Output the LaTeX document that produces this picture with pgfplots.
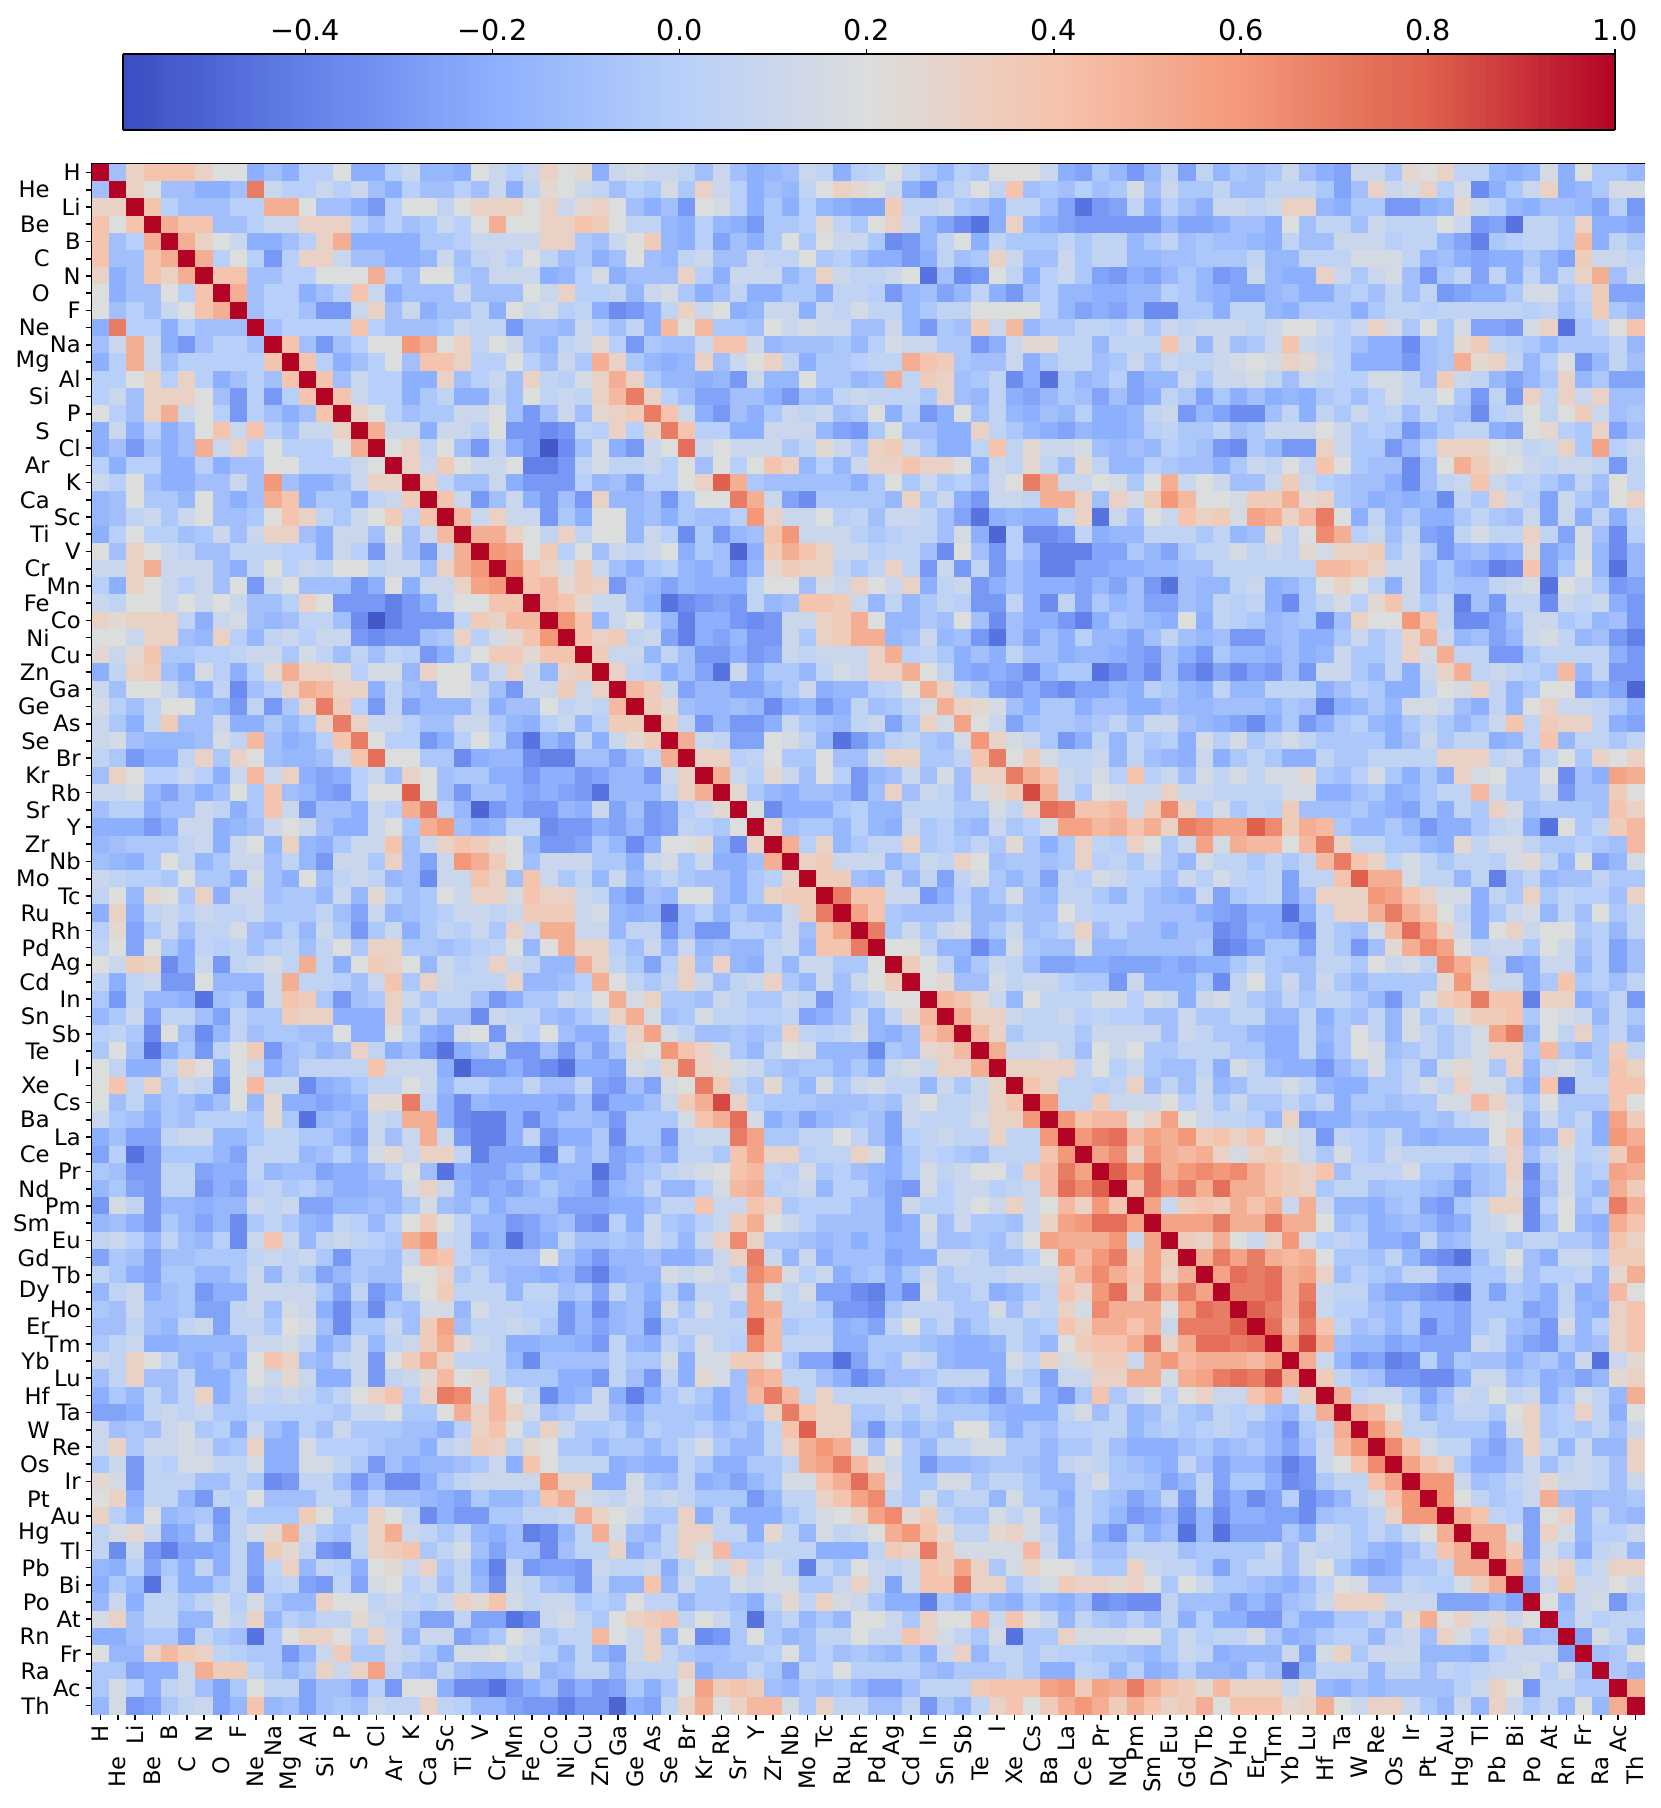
\documentclass[border=0pt]{standalone}
\usepackage{fontspec}
\setmainfont{DejaVu Sans}
\usepackage{pgfplots}
\pgfplotsset{compat=1.18}
\pgfplotsset{colormap={coolwarm}{rgb255=(59,76,192) rgb255=(98,130,234) rgb255=(141,176,254) rgb255=(184,208,249) rgb255=(221,221,221) rgb255=(245,196,173) rgb255=(244,152,122) rgb255=(222,96,77) rgb255=(180,4,38)}}
\pgfplotsset{cell/.style={only marks, scatter, mark=square*, mark size=2.56pt, point meta=explicit,
  scatter/use mapped color={draw=mapped color, fill=mapped color}, mark options={line width=0.1pt}}}
% one row of the lower triangle, values in tenths; the matrix is symmetric
\newcommand\R[2]{\gdef\pts{}\foreach \v [count=\j from 0] in {#2}{\xdef\pts{\pts (\j,#1) [\v e-1] (#1,\j) [\v e-1]}}%
  \edef\tmp{\noexpand\addplot[cell] coordinates {\pts};}\tmp}
\newcommand\oo{\hspace*{9.3pt}}
\begin{document}
\begin{tikzpicture}
\path[use as bounding box] (0,0) rectangle (498pt,542.4pt);
\begin{axis}[
  at={(27.6pt,28.2pt)}, anchor=south west, scale only axis, width=465.6pt, height=465pt,
  xmin=-0.5, xmax=89.5, ymin=-0.5, ymax=89.5, y dir=reverse, axis on top,
  axis line style={line width=0.8pt},
  point meta min=-0.595, point meta max=1,
  xtick={0,...,89}, ytick={0,...,89},
  tick align=outside, major tick length=1.9pt, tick style={line width=0.5pt, black},
  xtick pos=lower, ytick pos=left, xticklabel pos=lower,
  xticklabels={H,He\oo,Li,Be\oo,B,C\oo,N,O\oo,F,Ne\oo,Na,Mg\oo,Al,Si\oo,P,S\oo,Cl,Ar\oo,K,Ca\oo,Sc,Ti\oo,V,Cr\oo,Mn,Fe\oo,Co,Ni\oo,Cu,Zn\oo,Ga,Ge\oo,As,Se\oo,Br,Kr\oo,Rb,Sr\oo,Y,Zr\oo,Nb,Mo\oo,Tc,Ru\oo,Rh,Pd\oo,Ag,Cd\oo,In,Sn\oo,Sb,Te\oo,I,Xe\oo,Cs,Ba\oo,La,Ce\oo,Pr,Nd\oo,Pm,Sm\oo,Eu,Gd\oo,Tb,Dy\oo,Ho,Er\oo,Tm,Yb\oo,Lu,Hf\oo,Ta,W\oo,Re,Os\oo,Ir,Pt\oo,Au,Hg\oo,Tl,Pb\oo,Bi,Po\oo,At,Rn\oo,Fr,Ra\oo,Ac,Th\oo},
  yticklabels={H,He\oo,Li,Be\oo,B,C\oo,N,O\oo,F,Ne\oo,Na,Mg\oo,Al,Si\oo,P,S\oo,Cl,Ar\oo,K,Ca\oo,Sc,Ti\oo,V,Cr\oo,Mn,Fe\oo,Co,Ni\oo,Cu,Zn\oo,Ga,Ge\oo,As,Se\oo,Br,Kr\oo,Rb,Sr\oo,Y,Zr\oo,Nb,Mo\oo,Tc,Ru\oo,Rh,Pd\oo,Ag,Cd\oo,In,Sn\oo,Sb,Te\oo,I,Xe\oo,Cs,Ba\oo,La,Ce\oo,Pr,Nd\oo,Pm,Sm\oo,Eu,Gd\oo,Tb,Dy\oo,Ho,Er\oo,Tm,Yb\oo,Lu,Hf\oo,Ta,W\oo,Re,Os\oo,Ir,Pt\oo,Au,Hg\oo,Tl,Pb\oo,Bi,Po\oo,At,Rn\oo,Fr,Ra\oo,Ac,Th\oo},
  x tick label style={rotate=90, anchor=east, font=\fontsize{6.8}{7}\selectfont, inner sep=1.3pt},
  y tick label style={anchor=east, font=\fontsize{6.8}{7}\selectfont, inner sep=1.3pt},
  colorbar sampled, colorbar horizontal,
  colorbar style={
    samples=256,
    at={(0.01997,1.0219)}, anchor=south west, scale only axis, width=447.6pt, height=22.8pt,
    y dir=normal, ymin=0, ymax=1,
    xtick={-0.4,-0.2,0,0.2,0.4,0.6,0.8,1},
    xticklabels={−0.4,−0.2,0.0,0.2,0.4,0.6,0.8,1.0},
    xticklabel pos=upper, xtick pos=upper, tick align=outside, major tick length=1.6pt,
    tick style={line width=0.5pt, black}, axis line style={line width=0.6pt},
    x tick label style={font=\fontsize{8.6}{10}\selectfont, rotate=0, anchor=south, inner sep=2pt},
    ytick=\empty,
  },
]
\R{0}{10}
\R{1}{-1,10}
\R{2}{3,3,10}
\R{3}{4,2,4,10}
\R{4}{4,-1,0,5,10}
\R{5}{4,-1,-1,4,5,10}
\R{6}{3,-2,-1,4,3,5,10}
\R{7}{2,-2,-1,-1,2,0,4,10}
\R{8}{2,-1,0,-1,1,2,4,5,10}
\R{9}{-2,7,0,0,-2,0,-1,-1,-1,10}
\R{10}{-1,1,5,1,-2,-3,-1,0,0,-1,10}
\R{11}{-2,0,5,1,-1,0,0,0,0,0,4,10}
\R{12}{0,0,2,3,0,3,0,-2,-1,0,-1,4,10}
\R{13}{0,1,-1,3,3,3,2,-1,-3,0,-3,0,4,10}
\R{14}{2,0,-1,3,5,1,2,0,-3,0,-1,-2,-1,4,10}
\R{15}{-2,1,-2,0,-2,-1,2,4,1,4,0,-1,1,1,3,10}
\R{16}{-2,-1,-3,-1,-2,-1,5,1,3,0,2,0,0,0,2,5,10}
\R{17}{0,-2,0,0,-2,-2,0,-2,-1,-1,2,2,0,0,0,1,2,10}
\R{18}{1,0,2,-1,-2,-2,-1,-1,1,-1,6,-1,-2,-2,-1,1,3,3,10}
\R{19}{-1.5,-1,2,-.5,-.5,-1.5,2,-1,-2,-1,5,4,-2,-.5,-.5,-2,.5,1,3.5,10}
\R{20}{-1.5,-1,.5,1,-.5,1,2,-1,-1,-.5,2,4,3,.5,-.5,1,2,3.5,.5,4,10}
\R{21}{-2,0,2,0,0,-1,-.5,1,-1,1,3,3,-1,-2,1,1,-1,2,-1,1,4.5,10}
\R{22}{2,-1,3,2,1,.5,-1,-1,.5,.5,.5,0,0,-2,1,0,-3,1,-1,-3,1,5,10}
\R{23}{1,1,3,5,1,1,1,-1,-2,.5,2,0,1,.5,2,2,.5,1,1,-1,3,5,6,10}
\R{24}{0,-2,3,2,1,0,1,-1,2,-3,1,2,-1,-1,-1,-3,-2,2,-2,1,1,3,5.5,6,10}
\R{25}{1,.5,2,2,1,2,1,2,1,-1,-1,0,3,2,-3,-3,-3,-4,-3,-2,1,2,2,4,4,10}
\R{26}{3,2.5,3,3,3,.5,-2,1,1.5,-1,-1.5,-1,.5,.5,-1,-3.5,-5.5,-4,-3,-3,-3,.5,3.5,3,4.5,4.5,10}
\R{27}{2,2,1,3,3,-1,-1.5,3,0,-1.5,.5,1,0,1,1,-3,-3.5,-3,-3,-1,-.5,3,0,1.5,2.5,4,6,10}
\R{28}{2.5,1,2.5,4,-.5,-.5,0,0,.5,1,1,-.5,1.5,.5,-1,.5,-1,.5,0,-3,-2,.5,2,3.5,3.5,2.5,4,4,10}
\R{29}{-2,.5,3,3.5,-1,-2,1.5,0,-2,0,2.5,5,3,3,2.5,0,1.5,1.5,-1.5,3,2,2,-1,1,3,1,-1.5,3,3.5,10}
\R{30}{1,-1,2,2,1,-1,-2,.5,-3.5,-1,0,3,5,4.5,3,3,-2,.5,-1,-1.5,2,2,1,-1,-3,1,1,3.5,1,3,10}
\R{31}{1.5,0,-1,.5,2,2,-1,-1.5,-3,.5,-3,-.5,3,7,3.5,0,-3,.5,-2.5,-1.5,-1.5,-1.5,.5,-2,-1,-1,2,.5,1,.5,4.5,10}
\R{32}{1,-.5,-2,.5,3.5,-1,-1,1,-2,-2,-.5,-1.5,-.5,3,7,3,1,1,0,-1,-1,1,1,-.5,-1.5,-2,0,1,-1.5,0,3.5,3.5,10}
\R{33}{1,1.5,-1,-1.5,-1.5,-1.5,-1,1.5,.5,4.5,-1,-2,-1.5,0,4,7,2,0,0,-3,-2,0,2,0,-2.5,-4.5,-1.5,-2.5,.5,-2,1,2.5,3.5,10}
\R{34}{.5,-.5,-3,-2,-2,.5,3,-.5,3,2,-1,-1.5,-1.5,-1,1,4,7.5,2,2,-.5,-.5,-3.5,-2,-1.5,-1.5,-3.5,-4,-4,-1,-1,-2.5,-1,.5,5,10}
\R{35}{-1,3,2,0,0,1,0,-2,1,4.5,1,3,-2,-2.5,-2,0,1,-1,3,2,-1,-.5,-.5,-2,-2,-3,-2,-2,-3,-2.5,-1.5,-1.5,-3,1,3,10}
\R{36}{1,1,1.5,-1.5,-2.5,-1,-2,-1,2,-.5,4,-1,-1.5,-2.5,-3,0,2,2,8,2,-1,-3,-1,-1,-2,-2.5,-2,-2.5,-3,-4.5,-1.5,-1.5,-1.5,.5,3,5,10}
\R{37}{-1,0,0,-2,-1,-1,1,.5,-2,-.5,4,1,-3,-1,-1,-2,1,0,5,7,0,-1.5,-5,-3,-2,-3,-3,-1.5,-2,1,-2.5,-1,-3,-2.5,0,1,2.5,10}
\R{38}{-2,-2,-2,-3,-2,1,1,-2,-1.5,-1,1,2,1,-1,-2,-2,1,2,-.5,5,6,-1,-2,-1.5,.5,.5,-3.5,-3,-3,-2,-2.5,-1.5,-3,-2.5,.5,0,-.5,2,10}
\R{39}{-1.5,-1,-.5,-.5,-.5,.5,1,-2,1,2,-1.5,3,-1.5,-2,-.5,1,1,4,-1,1,3,4,3.5,2.5,2,-1.5,-3,-3,-2.5,-.5,-1.5,-3.5,-2,2,2,2.5,-1.5,-3.5,3,10}
\R{40}{-1,-1.5,-2,-.5,2,.5,-1.5,-.5,1,1,-1,.5,-1.5,-3,1,1,-.5,3,-1,-2.5,1,6,5,3.5,2,-1,1,1,1,-.5,-.5,-2,1,1.5,-.5,1,-2,-2,-1,5,10}
\R{41}{1,.5,0,0,-.5,2,-.5,-.5,-2,1.5,-1,-2,2,-1,.5,1,.5,-1.5,-1,-3.5,1,1,4,3,-1,4,1,-.5,.5,-1.5,1,-1.5,-.5,.5,-.5,-1,-1,-2,-.5,0,3,10}
\R{42}{.5,2,-1.5,2.5,2,-.5,3,-2,1,1,-1,-.5,-.5,-1.5,1,-1.5,2.5,0,-1,-.5,2,1,3,3,1.5,4,3,3,1,.5,-2,-3,-1,-1.5,2,2,-1,-2,-.5,3,3.5,3.5,10}
\R{43}{-2,3,-2,.5,1,0,1,.5,.5,1,-.5,-.5,-.5,.5,-1,-2.5,1,-1.5,-1,-.5,0,1,1,.5,1,3.5,3.5,3.5,1,1.5,-1.5,-2,-1.5,-4.5,-1,0,-1.5,-.5,-1.5,-1.5,1,3.5,7,10}
\R{44}{0,2.5,-2.5,-.5,1,-1,.5,.5,1.5,-1,-1.5,0,-1.5,1,-.5,-3,-.5,1,-2,-.5,.5,0,1,-.5,3,1,5,5,1,1,-1.5,.5,.5,-3,-1,-3,-3,0,0,-.5,1,-1,4,5.5,10}
\R{45}{.5,2,-2.5,2,-.5,-2,.5,0,.5,-1,0,.5,-1,.5,2,-.5,3,3,-.5,-.5,-1,-.5,0,.5,2,-1.5,2,5,3,3,0,-1,1,-1.5,1,-1.5,-1,-1.5,-1.5,.5,1,-1.5,4,4,7,10}
\R{46}{2,1,3.5,3,-3.5,-2,1,-3,.5,1,1.5,.5,5,.5,-2,2,3.5,3,2,-1.5,1,0,.5,3,1,.5,-1.5,-1.5,5,3,.5,-.5,-2.5,0,3,-1,3,-1.5,-2,.5,-1.5,1,1,-.5,-.5,2,10}
\R{47}{.5,-2,.5,1,-3,-3,2,-1.5,-1.5,-1.5,1,5,.5,.5,0,-1,1,4,-.5,3,1,.5,.5,.5,3,-1.5,-1.5,-1,0,5,2,.5,-.5,.5,3,1,-1,.5,1,3,-.5,-1.5,1,-1,1,2,3.5,10}
\R{48}{-.5,-3,.5,-1.5,-1.5,-2,-4.5,-1,-.5,-3,1,4,3.5,-.5,-3,-1,-.5,3,1,-.5,.5,.5,-1,-3,-2,-.5,-.5,1,.5,2,5,1.5,3,-.5,-.5,-1,1,.5,-.5,-.5,1,.5,-3,-1,-.5,.5,2,2,10}
\R{49}{-1.5,-.5,1,-2.5,.5,.5,-1,-2.5,.5,-.5,-.5,3.5,3,3,-2,-2,-2,3,-.5,1,-1,-1,-3.5,1,.5,.5,-1,-1.5,-.5,.5,3,5,1.5,-1,-.5,1.5,.5,.5,0,0,.5,-2.5,-2,-1,1,-1.5,.5,2.5,4.5,10}
\R{50}{0,.5,-.5,-3.5,2,-1,-3.5,-1.5,.5,-1,-.5,-.5,-1,-1,2,-2,-2,2,0,-2,-2.5,1.5,2,-3,1,0,2,-1,-2,-2,.5,3,5.5,1.5,.5,-1,-1,-.5,-1,-.5,3,.5,0,.5,1.5,-1.5,-2,-1,4,5,10}
\R{51}{-.5,2,-1,-4.5,-2,-.5,-3,.5,2,3.5,-3,-1,-.5,-1.5,-1,3,.5,-2,-1,-3,-4.5,-2,-1,.5,-3,-3,-1,-3,-1,-2.5,-.5,2.5,2,6,4,3,1.5,-.5,-1.5,.5,2,1.5,-1.5,-1.5,-1.5,-3.5,-.5,-1,2.5,3,4.5,10}
\R{52}{2,.5,-2,-2,.5,3,2,-2,2,1,-2,-1,.5,.5,.5,.5,4,1,1,1,-2,-5,-3,-3,-2,-3,-3.5,-4.5,-2,-2,-2.5,1.5,1,3,7,3,2.5,1.5,1,-.5,-1,-.5,-.5,-1.5,-.5,-2,1,1.5,1,3,3,5,10}
\R{53}{2,4,.5,3,-.5,1,.5,-3,2,4.5,1,1,-3.5,-2,-1.5,-.5,.5,.5,2,1,-1.5,0,0,-1,-1,.5,-1,-1,.5,-2.5,-3,-1,-2.5,1.5,2,7,3.5,.5,-.5,2.5,-.5,-1.5,1.5,-.5,1,1.5,.5,.5,-1.5,1,-.5,1,3,10}
\R{54}{2,-1,.5,-1.5,-.5,-1,-2,-1,2,-1.5,2.5,-2,-2,-2.5,-2,-1.5,2.5,2.5,7,.5,-2,-3.5,-1.5,-2,-2,-2,-2,-2.5,-1,-3.5,-2,-2,-1,1,3.5,5,8.5,3,0,-.5,-.5,-.5,-1,-1,-1,-.5,-1,1,2,.5,.5,1,3,4,10}
\R{55}{1,-.5,-1,-2,-.5,-1,0,0,0,-.5,2.5,-.5,-4.5,-1.5,-1,-2,1,.5,5,5,-2,-3.5,-4,-4,-2,-3.5,-2,-1,-1,-1.5,-3,-.5,-.5,-.5,1.5,4,5,7.5,1.5,-2,-1,-2.5,-1.5,-1,-.5,-1,-2.5,1,.5,.5,.5,1.5,3,3,6,10}
\R{56}{-2,-1,-2.5,-2.5,.5,1,1,-1.5,-1.5,-.5,.5,.5,-.5,-.5,-1.5,-2.5,1,-1,1,5,1,-3,-4,-4,-2,.5,-3,-2,-2,-.5,-3.5,-.5,-.5,-3,.5,1,1,7,5.5,-.5,-.5,.5,.5,2,.5,-1,-2.5,0,.5,1,.5,.5,3,.5,.5,6,10}
\R{57}{-2.5,0,-4.5,-3,-.5,-.5,-.5,-1.5,-2.5,.5,.5,.5,-1.5,-1,0,-1.5,1.5,2.5,1,3,3,.5,-4,-2.5,-2.5,-2.5,-4,0,-1.5,-.5,-2.5,-2,-1,-2,.5,.5,-.5,4,5.5,3,3,0,.5,.5,3,1.5,-2,-.5,.5,0,-.5,-1,.5,.5,.5,4,6,10}
\R{58}{-.5,-1,-3,-3,.5,.5,-2.5,-2,-2,.5,-1.5,-1,-1,-2.5,-2,-2,-1,.5,2,-1,-4.5,-2,-2.5,-2.5,-1.5,-.5,-2,-1.5,-1.5,-4.5,-2.5,-1,-.5,.5,1,1.5,2,4,4.5,.5,0,1.5,-.5,0,-1,-1.5,-2,-.5,1.5,.5,1,2,2,0,3.5,4.5,7,5.5,10}
\R{59}{-1.5,-.5,-2.5,-3,.5,.5,-3,-2,-2.5,0,.5,-.5,0,-1,-2,-2,-1.5,-1.5,1.5,3,1,-1.5,-2.5,-2,-2.5,-1.5,-.5,-1.5,-2,-3.5,-1.5,-1,.5,-1.5,-1.5,0,1.5,4.5,5,0,.5,1,-1.5,0,0,-1.5,-2.5,-3,1.5,0,1,1,0,.5,1,4.5,7.5,6.5,8,10}
\R{60}{-3,1.5,.5,-3,-1.5,-1.5,-2,-1.5,-1.5,1,.5,1,-2.5,-2.5,-1.5,-1.5,-1,-1.5,-.5,1.5,-1,-1.5,-.5,-2,-1,-1,-1,-2.5,-2.5,-2.5,-2,-2,-1,.5,.5,4,1,1,4,3,-.5,0,0,0,-1,-1,-2.5,1,0,0,1,2,1,3,1,2,4.5,3,6,4,10}
\R{61}{-1.5,-1,-2,-3,-.5,-1.5,-2.5,-1.5,-3.5,-.5,.5,-.5,-1.5,-2,.5,0,-1.5,0,2,3.5,2,.5,-1.5,-1.5,-3,-2.5,-1.5,-1,-3,-3.5,0,-2,1,-.5,-1,0,1,3.5,5,2,1,0,-1,-1,-1,-1,-2.5,-2,1.5,-1,1,-.5,-.5,-1,1,3,5.5,6,7.5,7.5,5.5,10}
\R{62}{.5,1,0,-1.5,.5,-1,-1.5,0,-3.5,1,4,1,-1.5,.5,1,.5,0,-.5,5,6,1,.5,-2.5,-1.5,-4.5,-2.5,-2,.5,-1,-1,-.5,-1,1,0,-1.5,1,3,6.5,3,-.5,-.5,-1,-1.5,-1,-2,-1,-2,-2,1,-1,-1,-.5,-1,.5,2,5.5,5,5,5,6,1,5.5,10}
\R{63}{-2.5,-.5,-1,-2.5,-1,-1,-.5,-.5,-.5,.5,1,.5,1,-.5,-3,-.5,-.5,-1,1,4.5,4,.5,-.5,-1,-1,-1,2,-1,-2,-3,-1.5,-1.5,-1,-2,-2,-1,1,3,7,1,-1.5,1,-2,-1,-1,-1,-2.5,-2,-2,1,1,.5,-1,-1,0,2,6,4.5,6,7,3.5,5.5,3.5,10}
\R{64}{.5,-.5,-2,-2.5,-.5,-.5,-1.5,-1.5,-.5,1,-1.5,.5,-.5,-2.5,-1.5,-.5,-1,-1,2,2,3,-.5,.5,-1,-1.5,-1.5,-2,-1.5,-3,-4,-2,-1.5,-1.5,1.5,1,1.5,1,0,6.5,5.5,1.5,0,1,-2,-1,-.5,-2,-.5,1,-.5,.5,.5,.5,1,1,1,3.5,5,6.5,5,4,5.5,3,5,10}
\R{65}{-1.5,.5,1,-2,-1,-.5,-3,-2,-2,1,1,1,1,-.5,-2.5,.5,-3,-2,1,2,3.5,.5,.5,.5,-1.5,.5,.5,-1,-.5,-2.5,.5,-1,-2,0,-2,.5,.5,1.5,5.5,1.5,.5,1.5,-2.5,-2.5,-3.5,-4,-2,-3.5,1.5,-.5,-.5,.5,-2,-1.5,-.5,.5,4,3,6,7.5,3.5,7,5,7,5.5,10}
\R{66}{-.5,-1,1,-1,-1,-.5,-2.5,-2.5,.5,1,-1,1.5,1,-2,-3.5,-1,-3.5,-.5,-1,1.5,1.5,-1.5,1.5,.5,.5,0,0,-3,-1.5,-3.5,-1.5,-1,-2.5,1.5,-.5,1.5,.5,-.5,5.5,5,.5,.5,-.5,-3,-3,-3.5,-.5,.5,.5,.5,-.5,-.5,1.5,-1,1,.5,3,1.5,6.5,5,5,5,2,5.5,7.5,7,10}
\R{67}{-1,-1,.5,-1,-1.5,.5,1,-2.5,.5,.5,-.5,2,1.5,-1,-3.5,-.5,-.5,1,-1,3.5,5.5,-1,.5,.5,1,.5,-.5,-3,-1.5,-2.5,-1.5,-1,-3.5,-.5,.5,.5,.5,.5,8,4.5,-.5,0,0,-2,-1.5,-2.5,.5,2,-.5,.5,-1.5,-.5,.5,.5,-.5,0,4,3,5,5,4,5,1,7,7,7,8,10}
\R{68}{-.5,.5,1,-2,-2,-1.5,-1.5,-1.5,-1.5,1,1,1.5,.5,-2,-1,1,-1.5,.5,1,3.5,5,2.5,1,.5,-2,-2,-1.5,-1.5,-2,-3,.5,-1.5,-2,.5,-.5,1.5,.5,0,6.5,4.5,.5,.5,.5,-2,-2,-.5,-.5,-.5,-1,-1.5,-2,-2,-1.5,.5,-.5,-1.5,2,3.5,4,4,5,7,3,5,7.5,7.5,7,7.5,10}
\R{69}{1,.5,3,2,.5,-1.5,-2,-1,-2,2,4,3,-1,-1.5,.5,1,-3,2,3.5,5,3,.5,.5,.5,-1.5,-3.5,-1,-1,-1,-1,.5,-.5,-.5,1.5,-2,1.5,1.5,3.5,3.5,2,-.5,-2.5,-2.5,-4.5,-2.5,-.5,-1,1,.5,-1.5,-2,-2,-2,1.5,.5,3,1.5,2.5,3.5,3.5,1,5,6,4.5,5,5,5,4.5,5.5,10}
\R{70}{-1,.5,3,-1,-1,.5,-2,-2,-.5,2,1,2.5,1,-2,-2,1,-3,.5,1,2.5,4.5,2,2.5,.5,-.5,-.5,-.5,-2,-2,-3,.5,-1,-3,.5,-2,2.5,1.5,-1,5,4.5,.5,.5,-1,-2,-3.5,-2.5,-1,-1,-.5,.5,.5,.5,-2,.5,-.5,-2.5,1,1,3,3,5,5,1.5,5,5.5,7,7.5,7,8.5,5,10}
\R{71}{-2,-.5,-1.5,.5,-1,.5,3,-2,-.5,1,.5,1,.5,-.5,.5,2,3,4,0,3,7,6.5,1.5,4.5,2,.5,-3.5,-2,-1.5,1,-2,-4,-2,-.5,.5,-.5,-2,-1,4.5,7,4.5,.5,3,.5,.5,.5,.5,1,.5,-2,-1.5,-2,-3,-1.5,.5,-2,-3,-.5,4,-.5,1,2,0,2,3,1,1,4,5,1,3.5,10}
\R{72}{-2.5,-2.5,-2,.5,1,.5,1,-.5,-.5,0,0,0,0,0,-.5,1,1,2,-.5,-.5,2,5,3,4.5,3,1.5,-1,-.5,1,1,-1,-2,-.5,-.5,-.5,-1,-2,-1,-.5,3,7,4,3,3,-.5,-.5,.5,-.5,.5,-.5,-.5,-.5,-1.5,-2,-2,-2,.5,1.5,-1,.5,-1.5,-1,.5,-.5,-1,.5,0,.5,-1,-1.5,.5,5,10}
\R{73}{1,-1,-.5,-1,1,1.5,-.5,0,-2,1,-1,-2,0,-1,1,-.5,-.5,-.5,-1,-1,-2,0,3,4,2,0,3,1,-.5,-.5,0,-1.5,0,-.5,-.5,0,-1,-.5,-1.5,.5,4,8,3,3,-1,-3,-.5,-1.5,-.5,-1,2,2,-.5,-2,-.5,-1,0,0,.5,.5,-1.5,-.5,0,-.5,0,.5,0,-1,-1.5,-3,-.5,.5,5,10}
\R{74}{1,3,-.5,1,1,1.5,1,-1,-.5,3,-2,-2,1.5,0,0,0,-.5,-1,-1,-2,.5,1,3.5,3,.5,2.5,2,-.5,-.5,-1.5,-.5,-.5,-1.5,-.5,.5,1.5,-.5,-1.5,-1.5,.5,3,5,6,5,1.5,-1,2,-.5,-1.5,.5,.5,1.5,1.5,-.5,-.5,-1.5,-.5,-.5,.5,-1,-2,-2,-2,-1,-.5,-1.5,-1,-.5,-1.5,-2.5,-1,1,4.5,6,10}
\R{75}{-.5,1,-3,.5,0,1.5,1.5,.5,.5,1.5,-2,-2,1.5,1.5,.5,-.5,-3,-1,-2,-1.5,-1.5,-1,-.5,1,-2,4,2,.5,.5,.5,-2,-1.5,-2,-2,.5,-.5,-2,-2,-.5,-.5,.5,5,5.5,7,4.5,2.5,1,-.5,-3,-1.5,-1.5,-1,-.5,-.5,-1,-1.5,.5,1,.5,-.5,-1,-1.5,-2,.5,-1,-2.5,-1.5,-1.5,-2.5,-4,-3,1,2,4,6.5,10}
\R{76}{2.5,1.5,-3,.5,.5,.5,-1,-1,.5,-.5,-3.5,-3,.5,.5,-1,-3,-1.5,-3.5,-3.5,-2,-.5,.5,1,1,1,1,6,3,3,-2,-2,1.5,-.5,-1,.5,-2,-1.5,-2.5,-1.5,-.5,1.5,1.5,4,5,7.5,5,1.5,-.5,-.5,1.5,1.5,-.5,.5,.5,-.5,-1.5,-1.5,.5,1.5,-.5,-.5,-1,-2.5,-1.5,.5,-2.5,-.5,-.5,-2,-3.5,-3,-.5,.5,.5,4,5.5,10}
\R{77}{2,3,-2,.5,.5,-1.5,-3,.5,0,2,-1,-1,-1,.5,.5,-1.5,0,-1,-1,-1.5,-2,-2.5,-.5,-1.5,-1.5,-.5,4,5,1.5,1,.5,1.5,.5,1,.5,-.5,-.5,-.5,-3,-1.5,.5,.5,3,4,5.5,6.5,.5,-.5,1.5,-.5,.5,.5,-1.5,1.5,-.5,-.5,-2,.5,-.5,-1,-2.5,-1.5,.5,-3,.5,-3,-2,-3.5,-2.5,0,-3.5,-2.5,-1.5,.5,1.5,4,6,10}
\R{78}{3,0,-1.5,2,-1.5,-1,-.5,-3,.5,-.5,-.5,-.5,3.5,2,-.5,-.5,3,2,.5,-3.5,-2,-3,-3,-.5,-.5,.5,.5,1,5,3,2,1,-.5,-.5,3,-2,.5,-2,-2,-2,-.5,.5,1.5,2,3,5.5,6.5,2.5,3.5,.5,-.5,-.5,1.5,.5,1.5,-1,-1.5,.5,-.5,-1.5,-3,-2.5,-1.5,-3.5,-1.5,-3.5,-2,-2,-2.5,-2.5,-3.5,-1,-.5,-.5,.5,3,6,6,10}
\R{79}{.5,1.5,2.5,1,-2.5,-2,.5,-2.5,.5,1.5,2.5,5,1,-.5,-1,.5,3,5,1,.5,-.5,.5,-1.5,-2,-1,-4,-3.5,-1.5,.5,5,1.5,-1,-1.5,.5,3,3,.5,.5,-2,2.5,.5,-1.5,1.5,.5,1,2,5,6,4,2.5,.5,.5,2.5,3,1.5,.5,-1.5,.5,-2,-3,-.5,-2,-1,-4.5,-1.5,-4.5,-2.5,-2.5,-2.5,-.5,-2,1,.5,-.5,.5,-.5,1,2,5,10}
\R{80}{.5,-3.5,1,-3,-4,-2.5,-2.5,-2,.5,-2.5,3.5,2.5,.5,-3,-3.5,.5,3,3.5,4,-.5,.5,1.5,-1,-2.5,-1,-1,-3.5,-1,.5,.5,3,-2,-.5,.5,3,1.5,4.5,-.5,-.5,.5,.5,.5,-2,-2,-2,.5,3.5,3,7,3.5,1.5,1.5,1.5,1.5,4.5,1,-1.5,0,-1,-1,.5,.5,.5,-1,-.5,-.5,-.5,-.5,1,-1,1,.5,.5,-.5,-1.5,-2,-1,.5,4,5,10}
\R{81}{-1.5,-2,0,-2.5,-.5,-2,.5,-2,.5,-2.5,.5,3,-1.5,.5,0,-2,2,2.5,1,3,-.5,.5,-2,-4,.5,-3,-2.5,-2.5,-3,1,.5,.5,1,-2,.5,2,1,3,.5,1.5,0,-4,.5,-.5,2,1,.5,1,4,3.5,5.5,3,-.5,1.5,3,2,2,1,-.5,-.5,3,1,.5,.5,-.5,-2.5,-.5,.5,.5,-1,1,2,-.5,-2,-2.5,-2,-.5,-.5,.5,5,5,10}
\R{82}{-2,-.5,-1.5,-4.5,0,-2,-2,-.5,.5,-3,0,.5,-2.5,-3,.5,-2.5,1.5,2,0,1,-1,.5,-1.5,-3.5,1,.5,-1,-1.5,-3,.5,-1.5,-1.5,4,-1.5,1,-.5,-.5,1.5,1,1.5,1.5,-.5,-.5,1,3,1,-2.5,1,4,4,7,3,3,-.5,1,1.5,3.5,3,3,2.5,3,2,-.5,2,1,-.5,-.5,-1,-1.5,-2,-1,.5,2,1.5,-1,-1,.5,0,0,1.5,3.5,5,10}
\R{83}{-1.5,1,-2,.5,.5,-.5,.5,1.5,0,1.5,-.5,-1.5,-1.5,3,2,2,.5,1,.5,0,1,3,2.5,4,1.5,.5,1,1,-.5,0,-.5,2,.5,.5,-1.5,-.5,-.5,-1,-2,.5,2.5,.5,3,1.5,1,-.5,-2,-2,-4,-.5,-1.5,-.5,-1.5,-2,-.5,-1.5,-2,-1,-3.5,-3,-3.5,-3.5,.5,-1,-1,-1,-2.5,-1.5,-2.5,-1,-.5,1,3,3,3,1,1,1,-2.5,-2.5,-2.5,-1.5,-2.5,10}
\R{84}{1.5,3,-1,.5,.5,-1.5,-1.5,1.5,.5,3,-1.5,0,-.5,.5,.5,2.5,1,.5,-.5,-2.5,-2.5,.5,-2.5,-2.5,-4.5,-3.5,1,1.5,.5,-.5,2,3,3.5,4,.5,2,1,-.5,-4.5,-.5,.5,-1.5,-.5,-1.5,2,2,1,-.5,3,2,2,4.5,1,4,2,1,-1.5,.5,-.5,-1,0,-1,.5,-2,0,-2,-2,-3,-3,-.5,-2,-2,-.5,-.5,.5,-1,2.5,5,2,3,1.5,2.5,1,2,10}
\R{85}{-2,-2,-1,-.5,-.5,-2.5,.5,-.5,-1,-4.5,-.5,2,3,3,2,0,3,1,-1.5,1,1,-2.5,-1.5,-.5,2,1,-.5,.5,.5,4.5,2,1,3,-1.5,2,-3.5,-3,-.5,2,-.5,-1.5,-1,.5,.5,2,1,1,4,3,1.5,.5,-.5,1.5,-4.5,-.5,-.5,3,1.5,1.5,1.5,2,2,-.5,1,0,.5,.5,1.5,-.5,-2,-1.5,-.5,0,0,-1.5,.5,1,-1,3,1.5,0,3,3.5,-1.5,-1,10}
\R{86}{2,-1.5,-1.5,3,4.5,3.5,3,.5,0,-.5,-.5,-3,-1.5,1,3.5,-.5,-.5,1,.5,-.5,-2,1.5,1.5,2,1,.5,0,-1.5,.5,-1.5,-2.5,1,3,.5,-.5,-1,-1,-.5,-.5,0,2,-1,0,-1,-.5,-1,-1.5,-.5,-2,1,3,-1.5,.5,.5,-.5,.5,0,0,-.5,-.5,-1,-1.5,-.5,1,.5,-2,-1.5,-1.5,-1.5,1,-2.5,1.5,3,-.5,1,1,1,-1.5,-1.5,-1.5,-2,0,1,1,1,-2.5,10}
\R{87}{-.5,-.5,-2.5,-2,-2,1,5,3.5,3.5,.5,-.5,-1.5,-.5,3,1,3,5.5,.5,-1,-1.5,.5,-1,-1.5,-1.5,-.5,1,-1.5,-1,.5,.5,-1.5,.5,.5,.5,3,-2,-1,-1,.5,-.5,-2.5,.5,0,2,0,0,0,0,-1,-1.5,-.5,-.5,-.5,.5,-.5,-2,-2,.5,0,-1.5,0,-2,-1.5,0,-1.5,-1.5,-2,0,-1,-4.5,-1.5,.5,.5,.5,-1.5,.5,.5,-1,.5,0,.5,1,1,1.5,0,1.5,-1,10}
\R{88}{-.5,1.5,0,-2,.5,1,-1,-2.5,-.5,2,.5,.5,-2.5,-1,-1,-2.5,0,-3,2,2,-2,-3.5,-3.5,-4.5,-3,-2,-1,-3,-2,-3,-2.5,-.5,-2,-.5,2,5.5,3.5,4,3.5,-1,-1.5,-.5,-1,-.5,-1.5,-2.5,-2.5,-1,.5,.5,.5,3.5,4,4,4,5.5,6,3.5,5.5,5,7,5,4,3.5,2.5,4.5,3,3,3,1,2.5,-1.5,-2,-1,-1.5,-1,-1,-1,-1,0,1,3,2,-3,.5,.5,-.5,-.5,10}
\R{89}{-1.5,1.5,-3,-2.5,-.5,.5,1,-2.5,-1.5,4,-1.5,-1,-2.5,-1,-.5,-1,1,.5,.5,3,.5,0,-1.5,-1.5,-2.5,-3,-3,-4,-3,-3,-5,-2,-2.5,.5,3,5,2,3,4.5,4.5,1.5,-.5,3,.5,.5,-1,-1,.5,-3,-.5,-1.5,.5,3,4,2,3.5,5,6,5,3.5,5,4,3,3.5,5,2,4,4,4,2.5,3,5,2,1,3,3,1,-.5,-1.5,1,-1.5,3,1,-.5,.5,-1.5,2,-1.5,5,10}
\end{axis}
\end{tikzpicture}
\end{document}
